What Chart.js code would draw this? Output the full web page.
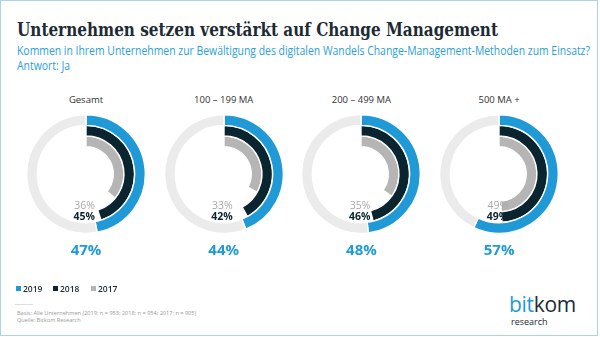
<!DOCTYPE html>
<html>
<head>
<meta charset="utf-8">
<script src="https://cdn.jsdelivr.net/npm/chart.js@4.4.1/dist/chart.umd.min.js"></script>
<style>
  html, body { margin: 0; padding: 0; background: #fff; }
  #frame { position: relative; width: 600px; height: 337px; overflow: hidden; font-family: "Open Sans", sans-serif; }
  #border { position: absolute; left: 0; top: 0; width: 596px; height: 334px; border: 1px solid #a9d5ec; }
  .t { position: absolute; white-space: nowrap; line-height: 1; }
  canvas { position: absolute; }
  #title { left: 17px; top: 20px; font-family: "DejaVu Serif", serif; font-weight: bold; font-size: 19px; color: #1d2b35; transform-origin: 0 0; }
  .sub { left: 17px; font-size: 12px; color: #2b9fd9; transform-origin: 0 0; }
  .col { font-size: 9.5px; color: #333; transform: translateX(-50%); }
  .v17 { font-size: 10.5px; color: #a8a8a8; transform: translateX(-100%); }
  .v18 { font-size: 10.5px; color: #0b2530; font-weight: bold; transform: translateX(-100%); }
  .v19 { font-size: 15px; color: #1f9ad6; font-weight: bold; transform: translateX(-50%); }
  .lg { font-size: 8.5px; font-weight: 600; color: #1d2b35; }
  .sq { position: absolute; width: 5px; height: 5px; }
  .foot { left: 17px; font-size: 5.6px; color: #999; }
</style>
</head>
<body>
<div id="frame">
  <div id="border"></div>
  <div class="t" id="title">Unternehmen setzen verstärkt auf Change Management</div>
  <div class="t sub" id="sub1" style="top:45px">Kommen in Ihrem Unternehmen zur Bewältigung des digitalen Wandels Change-Management-Methoden zum Einsatz?</div>
  <div class="t sub" id="sub2" style="top:60px">Antwort: Ja</div>
  <div id="legend"></div>
  <div style="position:absolute;left:15px;top:304px;width:18px;height:1px;background:#ddd"></div>
  <div class="t foot" style="top:311px">Basis: Alle Unternehmen (2019: n = 953; 2018: n = 954; 2017: n = 905)</div>
  <div class="t foot" style="top:318px">Quelle: Bitkom Research</div>
  <div class="t" style="left:509px;top:294px;font-size:21px;letter-spacing:-0.3px"><span style="color:#1f9ad6">bit</span><span style="color:#1d2b35">kom</span></div>
  <div class="t" style="left:511px;top:317px;font-size:9px;color:#1d2b35">research</div>
</div>
<script>
// Daten
const groups = ['Gesamt', '100 – 199 MA', '200 – 499 MA', '500 MA +'];
const years = ['2019', '2018', '2017'];
const ja2019 = [47, 44, 48, 57];
const ja2018 = [45, 42, 46, 49];
const ja2017 = [36, 33, 35, 49];
const colors = ['#1f9ad6', '#0b2530', '#b5b5b5'];
const trackColor = '#ebebeb';

// Titel auf Breite bringen
function fit(id, w) {
  const el = document.getElementById(id);
  const r = el.getBoundingClientRect().width;
  el.style.transform = 'scaleX(' + (w / r) + ')';
}
fit('title', 481);
fit('sub1', 573);
document.getElementById('sub2').style.transform = document.getElementById('sub1').style.transform;

const frame = document.getElementById('frame');
const cy = 174;
const size = 120;

function addText(cls, text, x, y) {
  const d = document.createElement('div');
  d.className = 't ' + cls;
  d.textContent = text;
  d.style.left = x + 'px';
  d.style.top = y + 'px';
  frame.appendChild(d);
}

groups.forEach((g, i) => {
  const cx = 86 + i * 137.7;
  const cv = document.createElement('canvas');
  cv.width = size;
  cv.height = size;
  cv.style.left = (cx - size / 2) + 'px';
  cv.style.top = (cy - size / 2) + 'px';
  frame.appendChild(cv);

  const series = [ja2019, ja2018, ja2017];
  new Chart(cv.getContext('2d'), {
    type: 'doughnut',
    data: {
      labels: ['Ja', 'Rest'],
      datasets: series.map((arr, k) => ({
        label: years[k],
        data: [arr[i], 100 - arr[i]],
        backgroundColor: [colors[k], k === 0 ? trackColor : 'rgba(0,0,0,0)'],
        borderColor: '#fff',
        borderWidth: [1.4, k === 0 ? 1.4 : 0],
        hoverOffset: 0,
        offset: 0
      }))
    },
    options: {
      responsive: false,
      animation: false,
      devicePixelRatio: 1,
      cutout: '46%',
      events: [],
      layout: { padding: 0 },
      plugins: { legend: { display: false }, tooltip: { enabled: false } }
    }
  });

  addText('col', g, cx, 95);
  addText('v17', ja2017[i] + '%', cx + 9, 200);
  addText('v18', ja2018[i] + '%', cx + 9, 211);
  addText('v19', ja2019[i] + '%', cx, 242);
});

// Legende
const lgX = [16, 53, 91];
years.forEach((y, k) => {
  const s = document.createElement('div');
  s.className = 'sq';
  s.style.left = lgX[k] + 'px';
  s.style.top = '286px';
  s.style.background = colors[k];
  frame.appendChild(s);
  addText('lg', y, lgX[k] + 7, 284.5);
});
</script>
</body>
</html>
